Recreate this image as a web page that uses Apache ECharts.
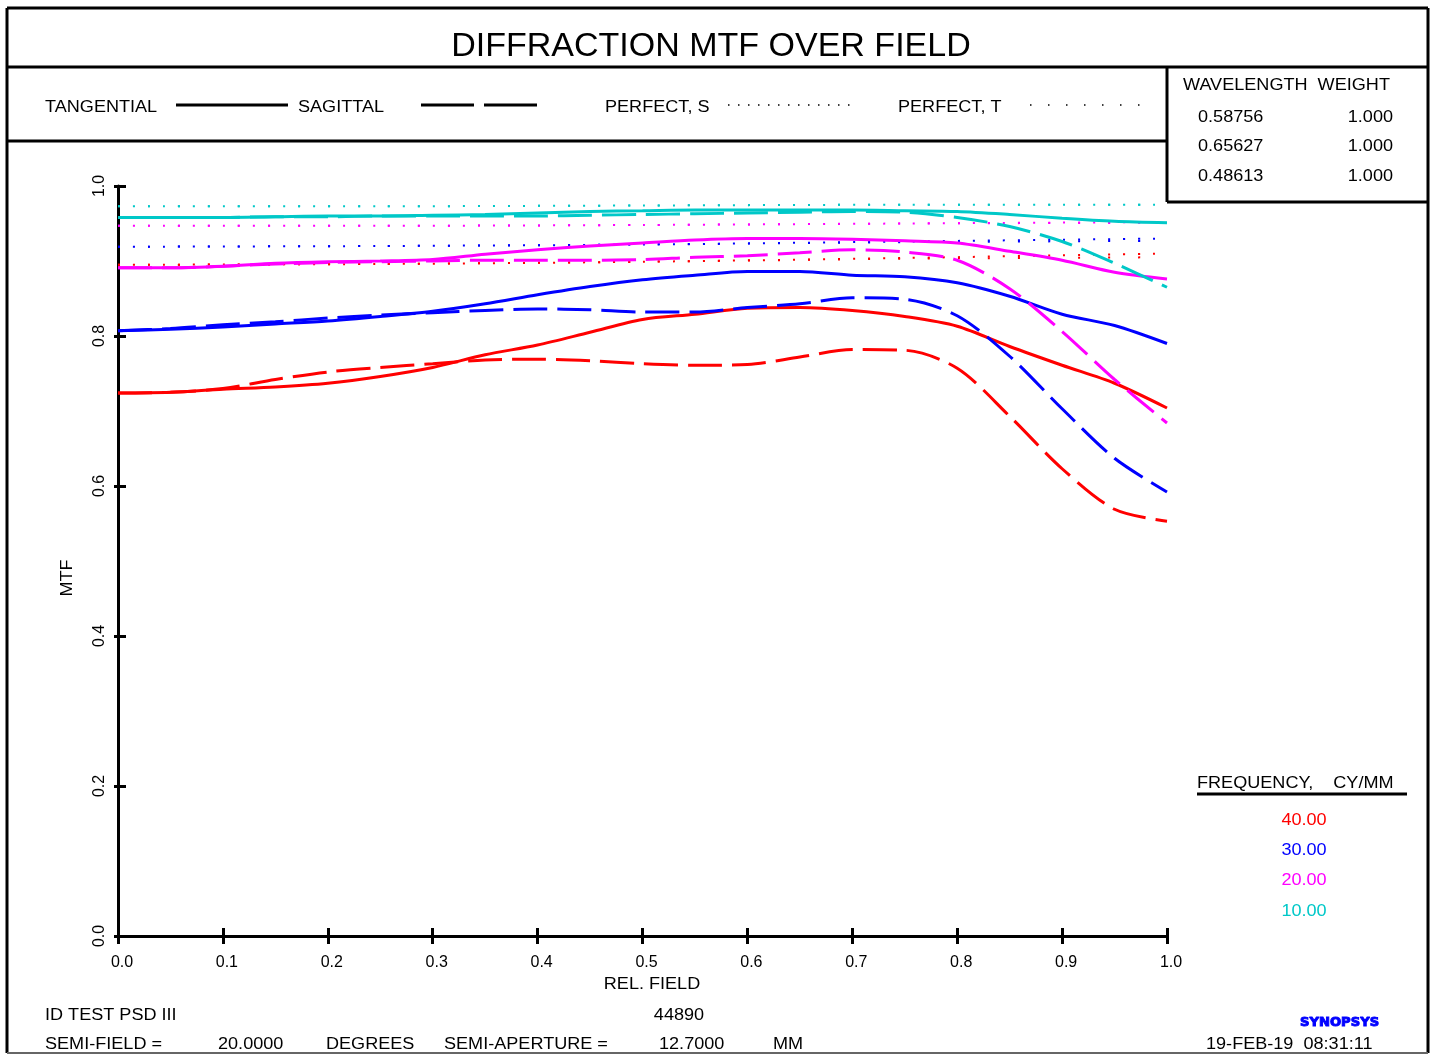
<!DOCTYPE html>
<html><head><meta charset="utf-8">
<script src="https://cdn.jsdelivr.net/npm/echarts@6/dist/echarts.min.js"></script>
<style>html,body{margin:0;padding:0;background:#fff}#c{width:1432px;height:1055px}</style>
</head><body><div id="c"></div>
<script>
// ---------- DATA ----------
const fields = [0,0.05,0.1,0.15,0.2,0.25,0.3,0.35,0.4,0.45,0.5,0.55,0.6,0.65,0.7,0.75,0.8,0.85,0.9,0.95,1.0];
// 40 cy/mm
const tan40 = [0.724,0.725,0.729,0.732,0.737,0.746,0.758,0.775,0.788,0.805,0.822,0.829,0.837,0.838,0.834,0.826,0.813,0.786,0.761,0.737,0.704];
const sag40 = [0.724,0.725,0.730,0.742,0.752,0.758,0.763,0.768,0.769,0.767,0.763,0.761,0.762,0.772,0.782,0.781,0.757,0.693,0.623,0.569,0.553];
// 30 cy/mm
const tan30 = [0.807,0.809,0.812,0.816,0.820,0.826,0.833,0.843,0.855,0.866,0.875,0.881,0.886,0.886,0.881,0.879,0.871,0.853,0.829,0.814,0.790];
const sag30 = [0.807,0.810,0.815,0.819,0.824,0.828,0.831,0.834,0.836,0.835,0.832,0.832,0.838,0.843,0.851,0.849,0.827,0.773,0.703,0.637,0.592];
// 20 cy/mm
const tan20 = [0.891,0.891,0.893,0.897,0.899,0.900,0.902,0.909,0.915,0.920,0.924,0.928,0.930,0.930,0.929,0.927,0.924,0.913,0.901,0.885,0.876];
const sag20 = [0.891,0.891,0.893,0.896,0.898,0.899,0.900,0.901,0.901,0.901,0.902,0.905,0.907,0.911,0.915,0.912,0.901,0.863,0.806,0.742,0.684];
// 10 cy/mm
const tan10 = [0.958,0.958,0.958,0.959,0.960,0.960,0.961,0.962,0.964,0.966,0.967,0.968,0.968,0.968,0.968,0.967,0.966,0.962,0.957,0.953,0.951];
const sag10 = [0.958,0.958,0.958,0.959,0.959,0.960,0.960,0.960,0.960,0.961,0.962,0.963,0.964,0.965,0.966,0.965,0.958,0.946,0.926,0.897,0.865];
// perfect (diffraction-limited)
const perfFields = [0,0.25,0.5,0.75,1.0];
const perfS40 = [0.895,0.896,0.899,0.904,0.910];
const perfT40 = [0.895,0.896,0.899,0.903,0.905];
const perfS30 = [0.919,0.920,0.922,0.926,0.930];
const perfT30 = [0.919,0.920,0.922,0.925,0.927];
const perfS20 = [0.947,0.947,0.948,0.950,0.952];
const perfT20 = [0.947,0.947,0.948,0.950,0.951];
const perfS10 = [0.973,0.973,0.974,0.975,0.975];
const perfT10 = [0.973,0.973,0.974,0.975,0.975];
const freqLabels = ['40.00','30.00','20.00','10.00'];
const wavelengths = ['0.58756','0.65627','0.48613'];
const weights = ['1.000','1.000','1.000'];

// ---------- STYLE ----------
const RED='#ff0000', BLUE='#0000ff', MAG='#ff00ff', CYAN='#00c8c8';
const FONT='"Liberation Sans", Arial, sans-serif';
const pairs=(xs,ys)=>xs.map((x,i)=>[x,ys[i]]);

function lineSeries(name, xs, ys, color, type, width){
  return {name, type:'line', xAxisIndex:0, yAxisIndex:0, data:pairs(xs,ys),
    showSymbol:false, symbol:'none', smooth:0.3, silent:true, animation:false,
    lineStyle:{color, width, type}};
}
const series=[];
const groups=[[perfS40,perfT40,tan40,sag40,RED],[perfS30,perfT30,tan30,sag30,BLUE],[perfS20,perfT20,tan20,sag20,MAG],[perfS10,perfT10,tan10,sag10,CYAN]];
groups.forEach(g=>{
  series.push(lineSeries('PERFECT, S',perfFields,g[0],g[4],[2,13],2));
  series.push(lineSeries('PERFECT, T',perfFields,g[1],g[4],[2,28],2));
});
groups.forEach(g=>{
  series.push(lineSeries('TANGENTIAL',fields,g[2],g[4],'solid',3));
});
groups.forEach(g=>{
  series.push(lineSeries('SAGITTAL',fields,g[3],g[4],[34,10],3));
});

const SX=1.13;
function txt(text,x,y,size,opts){
  opts=opts||{};
  return {type:'text', x, y:y+2, rotation:opts.rot||0, scaleX:opts.sx||SX, z:10,
    style:{text, font:(opts.weight||'normal')+' '+size+'px '+(opts.family||FONT),
      fill:opts.color||'#000', textAlign:opts.align||'left', textVerticalAlign:'middle'}};
}
function ln(x1,y1,x2,y2,w,dash,color){
  return {type:'line', z:10, shape:{x1,y1,x2,y2}, style:{stroke:color||'#000', lineWidth:w||3, lineDash:dash||null}};
}
const graphics=[
  ln(7,8,1428,8), ln(7,8,7,1053), ln(1428,8,1428,1053), ln(7,1053,1428,1053,2,null,'#666'),
  ln(7,67,1428,67), ln(7,141,1167,141), ln(1167,67,1167,202), ln(1167,202,1428,202),
  txt('DIFFRACTION MTF OVER FIELD',711,45,34,{align:'center',sx:1}),
  txt('TANGENTIAL',45,106,16), ln(176,105,288,105,3),
  txt('SAGITTAL',298,106,16), ln(421,105,538,105,3,[53,10]),
  txt('PERFECT, S',605,106,16), ln(728,105,850,105,1.5,[1.5,8.5]),
  txt('PERFECT, T',898,106,16), ln(1030,105,1140,105,1.5,[1.5,16.5]),
  txt('WAVELENGTH  WEIGHT',1183,84,16),
  txt('FREQUENCY,    CY/MM',1197,782,16), ln(1197,794,1407,794,3),
  {type:'text', x:68, y:578, rotation:Math.PI/2, scaleX:SX, z:10, style:{text:'MTF', font:'normal 16px '+FONT, fill:'#000', textAlign:'center', textVerticalAlign:'middle'}},
  txt('REL. FIELD',652,983,16,{align:'center'}),
  txt('ID TEST PSD III',45,1013.5,16),
  txt('44890',679,1013.5,16,{align:'center'}),
  txt('SEMI-FIELD =',45,1042.5,16),
  txt('20.0000',218,1042.5,16),
  txt('DEGREES',326,1042.5,16),
  txt('SEMI-APERTURE =',444,1042.5,16),
  txt('12.7000',659,1042.5,16),
  txt('MM',773,1042.5,16),
  txt('19-FEB-19  08:31:11',1206,1042.5,16),
  {type:'text', x:1300, y:1023, scaleX:0.82, scaleY:0.8, z:10, style:{text:'SYNOPSYS', font:'900 16px "DejaVu Sans", sans-serif', fill:'#0000ff', stroke:'#0000ff', lineWidth:1.2, textAlign:'left', textVerticalAlign:'middle'}}
];
wavelengths.forEach((w,i)=>{
  graphics.push(txt(w,1198,115.5+i*29.3,16));
  graphics.push(txt(weights[i],1393,115.5+i*29.3,16,{align:'right'}));
});
const freqColors=[RED,BLUE,MAG,CYAN];
freqLabels.forEach((f,i)=>{
  graphics.push(txt(f,1304,818.5+i*30.2,16,{align:'center',color:freqColors[i]}));
});

const axisBase={type:'value', min:0, max:1, interval:0.1, splitLine:{show:false}};
const chart=echarts.init(document.getElementById('c'),null,{renderer:'canvas'});
chart.setOption({
  backgroundColor:'#fff',
  animation:false,
  grid:{left:118, top:186, width:1049, height:750, containLabel:false},
  xAxis:[
    Object.assign({},axisBase,{position:'bottom',
      axisLine:{show:true,lineStyle:{color:'#000',width:3}},
      axisTick:{show:true,inside:false,length:8,lineStyle:{color:'#000',width:3}},
      axisLabel:{margin:19,color:'#000',fontSize:16,fontFamily:FONT,padding:[0,0,0,8],formatter:v=>v.toFixed(1)}}),
    Object.assign({},axisBase,{position:'bottom',offset:0,
      axisLine:{show:false},
      axisTick:{show:true,inside:true,length:8,lineStyle:{color:'#000',width:3}},
      axisLabel:{show:false}})
  ],
  yAxis:[
    Object.assign({},axisBase,{interval:0.2,position:'left',
      axisLine:{show:true,lineStyle:{color:'#000',width:3}},
      axisTick:{show:true,inside:false,length:4,lineStyle:{color:'#000',width:3}},
      axisLabel:{margin:10,rotate:90,color:'#000',fontSize:16,fontFamily:FONT,formatter:v=>v.toFixed(1)}}),
    Object.assign({},axisBase,{interval:0.2,position:'left',offset:0,
      axisLine:{show:false},
      axisTick:{show:true,inside:true,length:8,lineStyle:{color:'#000',width:3}},
      axisLabel:{show:false}})
  ],
  series,
  graphic:graphics
});
</script></body></html>
